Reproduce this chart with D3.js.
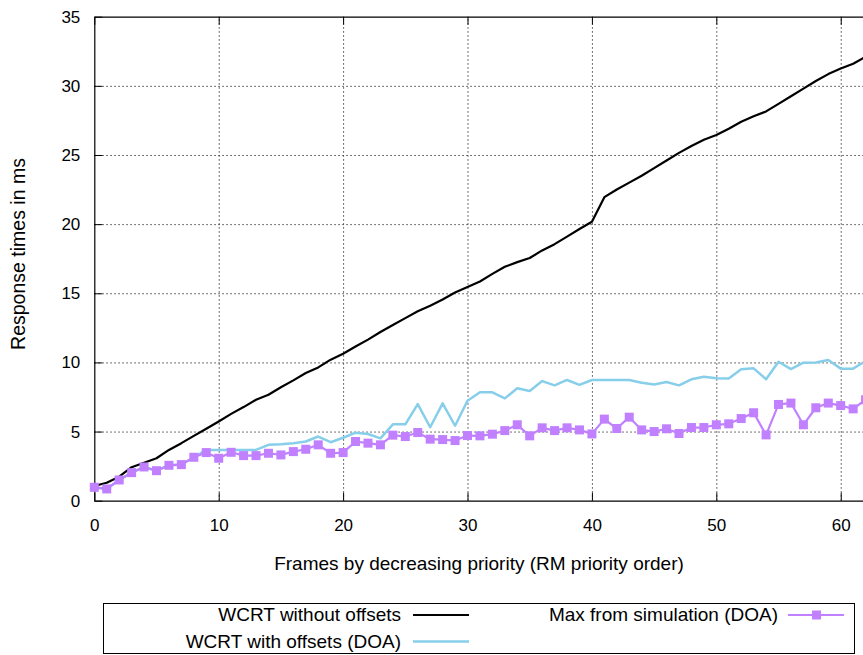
<!DOCTYPE html>
<html lang="en">
<head>
    <meta charset="UTF-8">
    <title>Response times by frame</title>
    <script src="https://d3js.org/d3.v7.min.js"></script>
    <style>
        body { margin: 0; background: #fff; }
        svg { display: block; font-family: "Liberation Sans", Arial, sans-serif; }
        .grid line { stroke: #444; stroke-dasharray: 1.5,2.5; stroke-width: 1; }
        .grid path { display: none; }
    </style>
</head>
<body>
    <svg id="chart"></svg>

    <script>
        // values, one per frame (0..62)
        const frames = d3.range(0, 63);

        const wcrtNoOffsets = [
            1.06, 1.3, 1.74, 2.42, 2.75, 3.07, 3.67, 4.16, 4.69, 5.2,
            5.73, 6.28, 6.77, 7.3, 7.66, 8.2, 8.7, 9.23, 9.64, 10.2,
            10.63, 11.15, 11.65, 12.2, 12.7, 13.2, 13.7, 14.1, 14.55, 15.05,
            15.45, 15.85, 16.4, 16.92, 17.25, 17.55, 18.1, 18.55, 19.1, 19.65,
            20.17, 21.95, 22.5, 23.0, 23.5, 24.05, 24.6, 25.15, 25.65, 26.1,
            26.45, 26.9, 27.4, 27.8, 28.15, 28.7, 29.25, 29.8, 30.35, 30.85,
            31.25, 31.6, 32.1
        ];

        const wcrtOffsets = [
            0.97, 0.85, 1.5, 2.03, 2.44, 2.17, 2.56, 2.61, 3.14, 3.67,
            3.67, 3.67, 3.67, 3.67, 4.04, 4.08, 4.16, 4.28, 4.64, 4.23,
            4.55, 4.92, 4.82, 4.51, 5.52, 5.52, 6.99, 5.31, 7.04, 5.42,
            7.23, 7.84, 7.84, 7.4, 8.13, 7.93, 8.65, 8.34, 8.73, 8.38,
            8.73, 8.73, 8.73, 8.73, 8.53, 8.41, 8.58, 8.34, 8.78, 8.97,
            8.85, 8.83, 9.5, 9.57, 8.78, 10.05, 9.52, 9.98, 10.0, 10.17,
            9.55, 9.55, 10.1
        ];

        const maxSimulation = [
            0.97, 0.85, 1.5, 2.03, 2.44, 2.17, 2.56, 2.61, 3.14, 3.48,
            3.07, 3.5, 3.26, 3.26, 3.43, 3.31, 3.55, 3.72, 4.04, 3.43,
            3.48, 4.28, 4.16, 4.04, 4.74, 4.64, 4.93, 4.45, 4.42, 4.35,
            4.71, 4.69, 4.81, 5.07, 5.49, 4.69, 5.27, 5.07, 5.27, 5.12,
            4.83, 5.9, 5.22, 6.04, 5.12, 5.0, 5.2, 4.86, 5.29, 5.29,
            5.49, 5.56, 5.94, 6.36, 4.76, 6.96, 7.06, 5.49, 6.72, 7.06,
            6.88, 6.64, 7.3
        ];

        const xTicks = [0, 10, 20, 30, 40, 50, 60];
        const yTicks = [0, 5, 10, 15, 20, 25, 30, 35];

        const seriesNames = ["WCRT without offsets", "WCRT with offsets (DOA)", "Max from simulation (DOA)"];
        const seriesColors = ["#000000", "#87ceeb", "#c080ff"];

        const width = 863;
        const height = 655;
        const plotLeft = 94.3, plotRight = 865.6, plotTop = 16.7, plotBottom = 500.7;

        const svg = d3.select("#chart")
            .attr("width", width)
            .attr("height", height);

        const x = d3.scaleLinear().domain([0, 62]).range([plotLeft, plotRight]);
        const y = d3.scaleLinear().domain([0, 35]).range([plotBottom, plotTop]);

        // dotted grid
        svg.append("g")
            .attr("class", "grid")
            .attr("transform", `translate(0,${plotBottom})`)
            .call(d3.axisBottom(x).tickValues(xTicks.slice(1)).tickSize(-(plotBottom - plotTop)).tickFormat(""));
        svg.append("g")
            .attr("class", "grid")
            .attr("transform", `translate(${plotLeft},0)`)
            .call(d3.axisLeft(y).tickValues(yTicks.slice(1, -1)).tickSize(-(plotRight - plotLeft)).tickFormat(""));

        // axes with inward ticks
        const xAxis = svg.append("g")
            .attr("transform", `translate(0,${plotBottom})`)
            .call(d3.axisBottom(x).tickValues(xTicks).tickSize(-8).tickSizeOuter(0).tickPadding(18));
        const yAxis = svg.append("g")
            .attr("transform", `translate(${plotLeft},0)`)
            .call(d3.axisLeft(y).tickValues(yTicks).tickSize(-8).tickSizeOuter(0).tickPadding(14));
        // mirrored ticks on top
        svg.append("g")
            .attr("transform", `translate(0,${plotTop})`)
            .call(d3.axisTop(x).tickValues(xTicks).tickSize(-8).tickSizeOuter(0).tickFormat(""));

        [xAxis, yAxis].forEach(a => {
            a.selectAll("text").style("font-size", "17px").attr("fill", "#000")
                .style("font-family", "'Liberation Sans', Arial, sans-serif");
            a.selectAll("line, path").attr("stroke", "#000");
        });
        svg.selectAll("path.domain").attr("stroke", "#000").attr("stroke-width", 1.2);

        // series lines
        const line = d3.line()
            .x((d, i) => x(frames[i]))
            .y(d => y(d));

        const plot = svg.append("g");
        [wcrtNoOffsets, wcrtOffsets, maxSimulation].forEach((values, k) => {
            plot.append("path")
                .datum(values)
                .attr("fill", "none")
                .attr("stroke", seriesColors[k])
                .attr("stroke-width", k === 1 ? 2.5 : 2.2)
                .attr("stroke-linejoin", "round")
                .attr("d", line);
        });

        // square markers for the simulation series
        plot.selectAll(".marker")
            .data(maxSimulation)
            .enter()
            .append("rect")
            .attr("class", "marker")
            .attr("x", (d, i) => x(frames[i]) - 4.5)
            .attr("y", d => y(d) - 4.5)
            .attr("width", 9)
            .attr("height", 9)
            .attr("fill", seriesColors[2]);

        // axis titles
        svg.append("text")
            .attr("x", 479)
            .attr("y", 570)
            .attr("text-anchor", "middle")
            .style("font-size", "19px")
            .text("Frames by decreasing priority (RM priority order)");

        svg.append("text")
            .attr("transform", "translate(25,254) rotate(-90)")
            .attr("text-anchor", "middle")
            .style("font-size", "19.5px")
            .text("Response times in ms");

        // legend
        const legend = svg.append("g");
        legend.append("rect")
            .attr("x", 103.5).attr("y", 603.5)
            .attr("width", 751).attr("height", 50)
            .attr("fill", "none").attr("stroke", "#000").attr("stroke-width", 1);

        const legendItems = [
            { textX: 401, lineX: 413, y: 615 },
            { textX: 401, lineX: 413, y: 641.5 },
            { textX: 778, lineX: 788, y: 615 }
        ];
        legendItems.forEach((it, k) => {
            legend.append("text")
                .attr("x", it.textX)
                .attr("y", it.y + 6)
                .attr("text-anchor", "end")
                .style("font-size", "19px")
                .text(seriesNames[k]);
            legend.append("line")
                .attr("x1", it.lineX).attr("x2", it.lineX + 56)
                .attr("y1", it.y).attr("y2", it.y)
                .attr("stroke", seriesColors[k])
                .attr("stroke-width", k === 1 ? 2.5 : 2.2);
        });
        legend.append("rect")
            .attr("x", 816.5 - 4.5).attr("y", 615 - 4.5)
            .attr("width", 9).attr("height", 9)
            .attr("fill", seriesColors[2]);
    </script>
</body>
</html>
